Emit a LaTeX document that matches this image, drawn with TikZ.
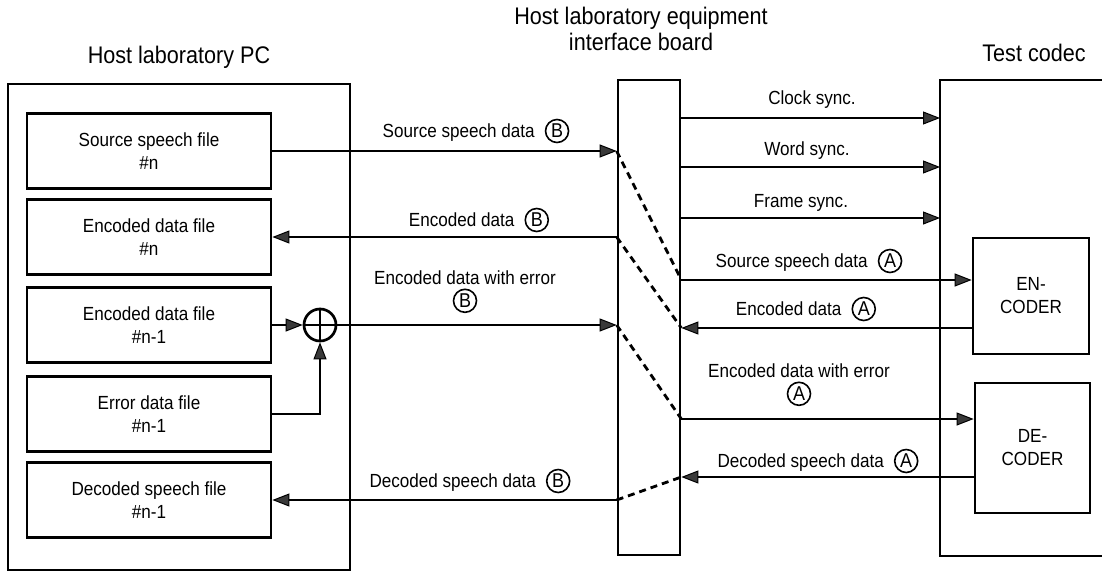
\documentclass[tikz,border=0pt]{standalone}
\usepackage{fontspec}
\setmainfont{Liberation Sans}[FakeStretch=0.9]
\usetikzlibrary{arrows.meta}
\newcommand{\circlet}[1]{\tikz[baseline=(cl.base)]\node[draw,circle,line width=1.6pt,inner sep=0pt,minimum size=23pt,font=\fontsize{20}{23}\selectfont](cl){#1};}
\begin{document}
\begin{tikzpicture}[x=1pt,y=-1pt,
  every node/.style={font=\fontsize{19}{23}\selectfont},
  filebox/.style={draw,line width=2.8pt,minimum width=244pt,minimum height=75pt,align=center,inner sep=0pt},
  frame/.style={draw,line width=2.7pt},
  arr/.style={line width=2.7pt,-{Triangle[length=17pt,width=13pt,fill=gray!45!black,line width=1pt]}},
  dsh/.style={line width=2.8pt,dash pattern=on 7pt off 5pt},
  lbl/.style={align=center,inner sep=0pt},
  title/.style={font=\fontsize{24}{26}\selectfont,align=center,inner sep=0pt}]
\useasboundingbox (0,0) rectangle (1102,575);

% titles
\node[title] (t1) at (179,57) {Host laboratory PC};
\node[title] (t2) at (641,29) {Host laboratory equipment\\interface board};
\node[title] (t3) at (1034,53) {Test codec};

% host PC
\node[frame,minimum width=342pt,minimum height=486pt,inner sep=0pt] (pc) at (179,327) {};
\node[filebox] (src) at (149,151) {Source speech file\\\#n};
\node[filebox] (encn) at (149,237) {Encoded data file\\\#n};
\node[filebox] (encm) at (149,325) {Encoded data file\\\#n-1};
\node[filebox] (err) at (149,414) {Error data file\\\#n-1};
\node[filebox] (dec) at (149,500) {Decoded speech file\\\#n-1};
\node[draw,circle,line width=2.7pt,minimum size=32pt,inner sep=0pt] (xor) at (320,325) {};
\draw[line width=2.7pt] (xor.north) -- (xor.south) (xor.west) -- (xor.east);

% interface board
\node[frame,minimum width=62pt,minimum height=475pt,inner sep=0pt] (board) at (649,317.5) {};

% test codec
\coordinate (cnw) at (940,80);
\coordinate (csw) at (940,556);
\coordinate (cne) at (1102,80);
\coordinate (cse) at (1102,556);
\draw[frame] (cne) -- (cnw) -- (csw) -- (cse);
\node[frame,minimum width=116pt,minimum height=116pt,align=center,inner sep=0pt] (encoder) at (1031,296) {EN-\\CODER};
\node[frame,minimum width=115pt,minimum height=130pt,align=center,inner sep=0pt] (decoder) at (1032.5,448) {DE-\\CODER};

% left side connectors
\draw[arr] (src.east) -- (src.east -| board.west);
\draw[arr] (encn.east -| board.west) -- (encn.east);
\draw[arr] (encm.east) -- (xor.west);
\draw[arr] (err.east) -| (xor.south);
\draw[arr] (xor.east) -- (xor.east -| board.west);
\draw[arr] (dec.east -| board.west) -- (dec.east);

% right side connectors
\draw[arr] (board.east |- 0,118) -- (cnw |- 0,118);
\draw[arr] (board.east |- 0,167) -- (cnw |- 0,167);
\draw[arr] (board.east |- 0,218) -- (cnw |- 0,218);
\draw[arr] (board.east |- 0,280) -- (encoder.west |- 0,280);
\draw[arr] (encoder.west |- 0,328) -- (board.east |- 0,328);
\draw[arr] (board.east |- 0,419) -- (decoder.west |- 0,419);
\draw[arr] (decoder.west |- 0,477) -- (board.east |- 0,477);

% dashed cross-connections inside the board
\draw[dsh] (src.east -| board.west) -- (board.east |- 0,280);
\draw[dsh] (encn.east -| board.west) -- (board.east |- 0,328);
\draw[dsh] (xor.east -| board.west) -- (board.east |- 0,419);
\draw[dsh] (dec.east -| board.west) -- (board.east |- 0,477);

% labels left
\node[lbl] (l1) at (476,131) {Source speech data\hspace{10pt}\circlet{B}};
\node[lbl] (l2) at (479,220) {Encoded data\hspace{10pt}\circlet{B}};
\node[lbl] (l3) at (465,292) {Encoded data with error\\[0pt]\circlet{B}};
\node[lbl] (l4) at (470,481) {Decoded speech data\hspace{10pt}\circlet{B}};

% labels right
\node[lbl] (r1) at (812,100) {Clock sync.};
\node[lbl] (r2) at (807,151) {Word sync.};
\node[lbl] (r3) at (801,203) {Frame sync.};
\node[lbl] (r4) at (809,261) {Source speech data\hspace{10pt}\circlet{A}};
\node[lbl] (r5) at (806,309) {Encoded data\hspace{10pt}\circlet{A}};
\node[lbl] (r6) at (799,385) {Encoded data with error\\[0pt]\circlet{A}};
\node[lbl] (r7) at (818,461) {Decoded speech data\hspace{10pt}\circlet{A}};
\end{tikzpicture}
\end{document}
